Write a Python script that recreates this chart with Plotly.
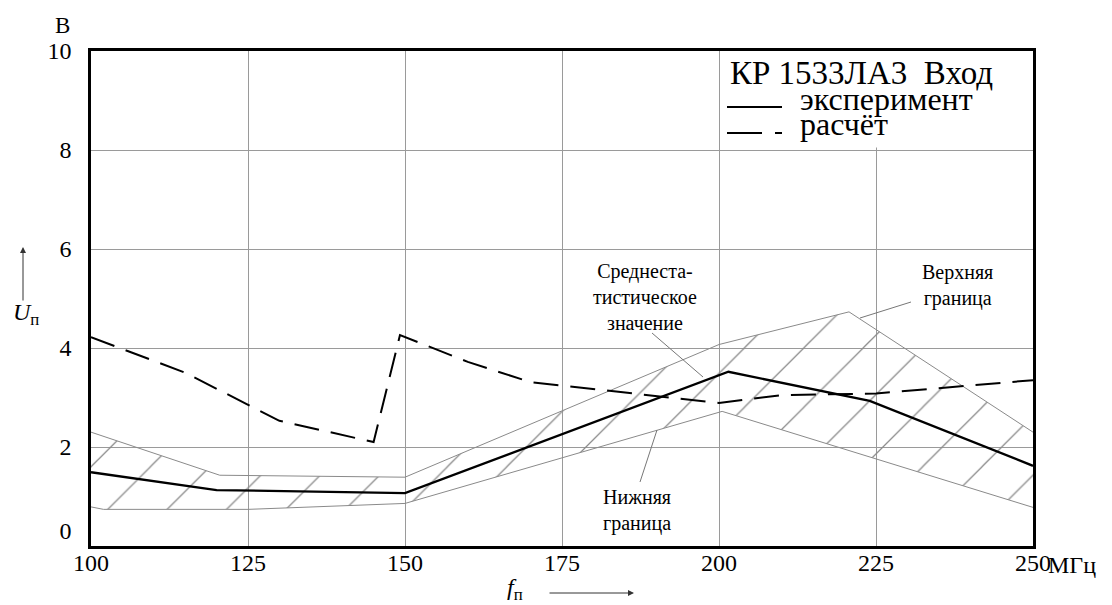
import plotly.graph_objects as go

# ---- data ----
exp_x = [100, 120, 150, 201.5, 224, 250]
exp_y = [1.49, 1.13, 1.07, 3.52, 2.93, 1.62]

calc_x = [100, 115, 130, 145, 149.2, 160, 170, 200, 210, 225, 250]
calc_y = [4.22, 3.50, 2.53, 2.10, 4.26, 3.72, 3.31, 2.89, 3.05, 3.08, 3.35]

upper_x = [100, 120.5, 150, 200, 220.7, 250]
upper_y = [2.30, 1.43, 1.39, 4.07, 4.73, 2.30]

lower_x = [100, 102, 125, 150, 200.5, 250]
lower_y = [0.79, 0.74, 0.74, 0.86, 2.72, 0.78]

x_ticks = [100, 125, 150, 175, 200, 225, 250]
y_ticks = [0, 2, 4, 6, 8, 10]
y_ticktext = ["0<br>\u00a0", "2", "4", "6", "8", "10"]

W, H = 1112, 605
L, R, T, B = 91, 1033, 51, 546
FONT = "Liberation Serif, Times New Roman, serif"
GRID = "#9a9a9a"
BAND = "#8a8a8a"


def px(x):
    return (x - L) / (R - L)


def py(y):
    return (B - y) / (B - T)


fig = go.Figure()

# band: lower bound, then upper bound filled (hatched) to lower
fig.add_trace(go.Scatter(x=lower_x, y=lower_y, mode="lines",
                         line=dict(color=BAND, width=1), showlegend=False,
                         hoverinfo="skip"))
fig.add_trace(go.Scatter(x=upper_x, y=upper_y, mode="lines",
                         line=dict(color=BAND, width=1), showlegend=False,
                         fill="tonexty", fillcolor="rgba(0,0,0,0)",
                         fillpattern=dict(shape="/", size=42, solidity=0.03,
                                          fgcolor=BAND, bgcolor="rgba(0,0,0,0)",
                                          fillmode="replace"),
                         hoverinfo="skip"))

fig.add_trace(go.Scatter(x=calc_x, y=calc_y, mode="lines", name="расчёт",
                         line=dict(color="black", width=2, dash="25px,12px"),
                         showlegend=False))
fig.add_trace(go.Scatter(x=exp_x, y=exp_y, mode="lines", name="эксперимент",
                         line=dict(color="black", width=2.3),
                         showlegend=False))

shapes = []
# white legend cell hiding grid
shapes.append(dict(type="rect", xref="x", yref="y", x0=200.4, x1=250, y0=8.05, y1=10,
                   fillcolor="white", line=dict(width=0), layer="between"))
# legend samples
shapes.append(dict(type="line", xref="paper", yref="paper",
                   x0=px(727), x1=px(782), y0=py(107), y1=py(107),
                   line=dict(color="black", width=2)))
shapes.append(dict(type="line", xref="paper", yref="paper",
                   x0=px(727), x1=px(782), y0=py(133), y1=py(133),
                   line=dict(color="black", width=2, dash="35px,13px")))
# leader lines
for (a, b, c, d) in [(652, 333, 703, 377), (860, 318, 911, 302), (640, 482, 657, 430)]:
    shapes.append(dict(type="line", xref="paper", yref="paper",
                       x0=px(a), y0=py(b), x1=px(c), y1=py(d),
                       line=dict(color="#777777", width=1)))

ann = []


def text(t, x, y, size, xanchor="center", yanchor="middle"):
    ann.append(dict(text=t, xref="paper", yref="paper", x=px(x), y=py(y),
                    xanchor=xanchor, yanchor=yanchor, showarrow=False,
                    font=dict(family=FONT, size=size, color="black")))


text("КР 1533ЛА3\u00a0\u00a0Вход", 728, 73, 33, xanchor="left")
text("эксперимент", 798, 99, 32, xanchor="left")
text("расчёт", 798, 124, 32, xanchor="left")
text("Среднеста-<br>тистическое<br>значение", 645, 297, 20)
text("Верхняя<br>граница", 957, 285, 20)
text("Нижняя<br>граница", 637, 510, 20)
text("В", 62, 25, 23)
text("МГц", 1046, 565, 24, xanchor="left")
text("<i>U</i><sub>п</sub>", 26, 314, 24)
text("<i>f</i><sub>п</sub>", 515, 589, 24)

# axis arrows
ann.append(dict(text="", xref="paper", yref="paper", x=px(23), y=py(247),
                ax=0, ay=55, showarrow=True, arrowhead=2, arrowsize=1.2,
                arrowwidth=1, arrowcolor="#333"))
ann.append(dict(text="", xref="paper", yref="paper", x=px(634), y=py(593),
                ax=-86, ay=0, showarrow=True, arrowhead=2, arrowsize=1.2,
                arrowwidth=1, arrowcolor="#333"))

fig.update_layout(
    width=W, height=H,
    margin=dict(l=L, r=W - R, t=T, b=H - B, pad=0),
    paper_bgcolor="white", plot_bgcolor="white",
    shapes=shapes, annotations=ann,
    font=dict(family=FONT, size=24, color="black"),
)
fig.update_xaxes(range=[100, 250], tickvals=x_ticks,
                 ticktext=[str(v) for v in x_ticks],
                 showgrid=True, gridcolor=GRID, gridwidth=1,
                 showline=True, linecolor="black", linewidth=2.5, mirror=True,
                 ticks="", ticklabelstandoff=-7, zeroline=False,
                 tickfont=dict(family=FONT, size=24))
fig.update_yaxes(range=[0, 10], tickvals=y_ticks,
                 ticktext=y_ticktext,
                 showgrid=True, gridcolor=GRID, gridwidth=1,
                 showline=True, linecolor="black", linewidth=2.5, mirror=True,
                 ticks="outside", ticklen=12, tickcolor="rgba(0,0,0,0)",
                 zeroline=False,
                 tickfont=dict(family=FONT, size=24))

fig.write_html("out.html", config={"displayModeBar": False},
               post_script="document.body.style.margin='0';document.body.style.overflow='hidden';")
